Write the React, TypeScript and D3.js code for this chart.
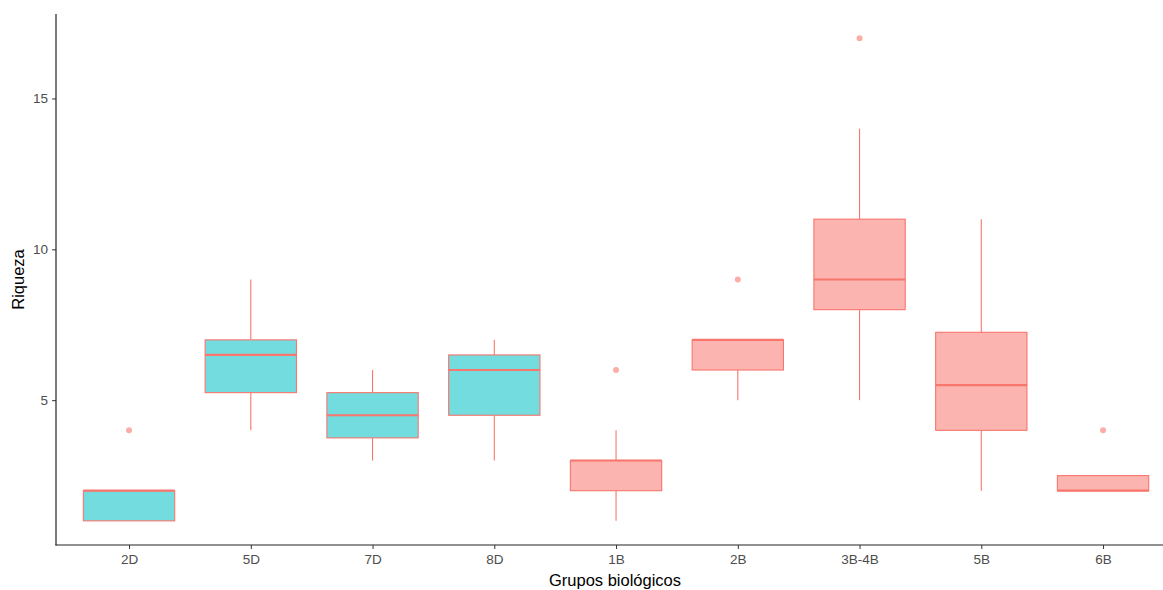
import React, { useEffect, useRef } from "react";
import * as d3 from "d3";

// five-number summaries
const groups = ["2D", "5D", "7D", "8D", "1B", "2B", "3B-4B", "5B", "6B"];
const tipo = ["D", "D", "D", "D", "B", "B", "B", "B", "B"];
const lower = [1, 4, 3, 3, 1, 5, 5, 2, 2];
const q1 = [1, 5.25, 3.75, 4.5, 2, 6, 8, 4, 2];
const median = [2, 6.5, 4.5, 6, 3, 7, 9, 5.5, 2];
const q3 = [2, 7, 5.25, 6.5, 3, 7, 11, 7.25, 2.5];
const upper = [2, 9, 6, 7, 4, 7, 14, 11, 2.5];
const outliers = [[4], [], [], [], [6], [9], [17], [], [4]];
const yTicks = [5, 10, 15];

const font = "Liberation Sans, Arial, sans-serif";

const App = () => {
  const ref = useRef<SVGSVGElement>(null);

  useEffect(() => {
    const width = 1163;
    const left = 56;
    const top = 14;
    const bottom = 545;
    const step = 121.75;

    const svg = d3.select(ref.current);
    svg.selectAll("*").remove();

    const x = d3
      .scalePoint()
      .domain(groups)
      .range([left, left + step * 9.2])
      .padding(0.6);

    const y = d3.scaleLinear().domain([0.2, 17.8]).range([bottom, top]);

    const fill = (t) => (t === "D" ? "#73DCDF" : "#FBB4AF");
    const line = "#F8766D";
    const bw = step * 0.75;

    const data = groups.map((g, i) => ({
      g,
      t: tipo[i],
      lo: lower[i],
      q1: q1[i],
      med: median[i],
      q3: q3[i],
      hi: upper[i],
      out: outliers[i],
    }));

    const box = svg
      .append("g")
      .selectAll("g")
      .data(data)
      .join("g")
      .attr("transform", (d) => `translate(${x(d.g)},0)`);

    box
      .append("line")
      .attr("y1", (d) => y(d.hi))
      .attr("y2", (d) => y(d.q3))
      .attr("stroke", line)
      .attr("stroke-width", 1.1);
    box
      .append("line")
      .attr("y1", (d) => y(d.q1))
      .attr("y2", (d) => y(d.lo))
      .attr("stroke", line)
      .attr("stroke-width", 1.1);

    box
      .append("rect")
      .attr("x", -bw / 2)
      .attr("width", bw)
      .attr("y", (d) => y(d.q3))
      .attr("height", (d) => y(d.q1) - y(d.q3))
      .attr("fill", (d) => fill(d.t))
      .attr("stroke", line)
      .attr("stroke-width", 1.1);

    box
      .append("line")
      .attr("x1", -bw / 2)
      .attr("x2", bw / 2)
      .attr("y1", (d) => y(d.med))
      .attr("y2", (d) => y(d.med))
      .attr("stroke", line)
      .attr("stroke-width", 2.2);

    box
      .selectAll("circle")
      .data((d) => d.out)
      .join("circle")
      .attr("cy", (v) => y(v))
      .attr("r", 3)
      .attr("fill", line)
      .attr("fill-opacity", 0.6);

    const styleTicks = (g) => {
      g.select(".domain").remove();
      g.selectAll(".tick line").attr("stroke", "#333");
      g.selectAll(".tick text")
        .attr("fill", "#4D4D4D")
        .attr("font-size", 13.5)
        .attr("font-family", font);
    };

    svg
      .append("g")
      .attr("transform", `translate(${left},0)`)
      .call(d3.axisLeft(y).tickValues(yTicks).tickSize(4).tickPadding(4))
      .call(styleTicks);

    svg
      .append("g")
      .attr("transform", `translate(0,${bottom})`)
      .call(d3.axisBottom(x).tickSize(4).tickPadding(5))
      .call(styleTicks);

    // axis lines (theme_classic)
    svg
      .append("line")
      .attr("x1", left)
      .attr("x2", left)
      .attr("y1", top)
      .attr("y2", bottom + 0.5)
      .attr("stroke", "#222")
      .attr("stroke-width", 1.2);
    svg
      .append("line")
      .attr("x1", left - 0.5)
      .attr("x2", width)
      .attr("y1", bottom)
      .attr("y2", bottom)
      .attr("stroke", "#222")
      .attr("stroke-width", 1.2);

    svg
      .append("text")
      .attr("x", 615)
      .attr("y", 586)
      .attr("text-anchor", "middle")
      .attr("font-size", 16.5)
      .attr("font-family", font)
      .attr("fill", "#000")
      .text("Grupos biológicos");

    svg
      .append("text")
      .attr("transform", `translate(24,${(top + bottom) / 2}) rotate(-90)`)
      .attr("text-anchor", "middle")
      .attr("font-size", 16.5)
      .attr("font-family", font)
      .attr("fill", "#000")
      .text("Riqueza");
  }, []);

  return (
    <svg
      ref={ref}
      width={1163}
      height={590}
      style={{ position: "absolute", left: 0, top: 0, background: "#fff" }}
    />
  );
};

export default App;
